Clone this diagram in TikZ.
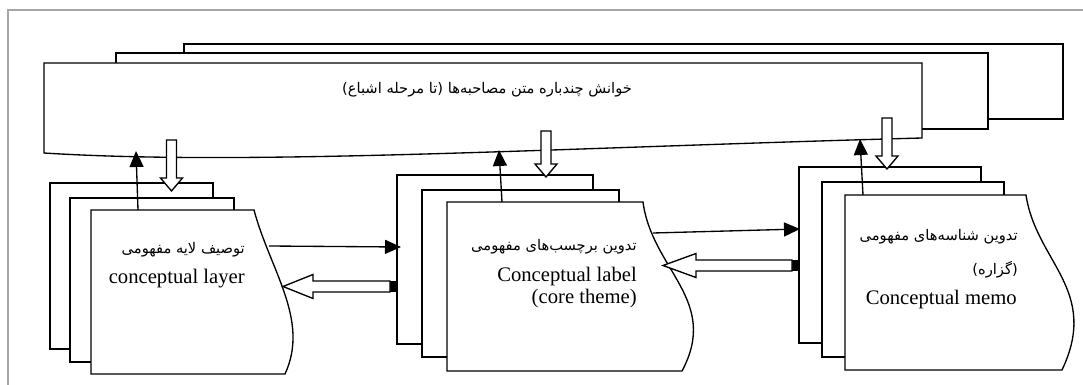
\documentclass[tikz,border=0pt]{standalone}
\usepackage{fontspec}
\setmainfont{Liberation Serif}
\newfontfamily\farsifont[Script=Arabic]{DejaVu Sans}
\TeXXeTstate=1
\usetikzlibrary{arrows.meta,positioning}

\tikzset{
  box/.style={draw, line width=1pt, fill=white},
  hollow/.style={draw, line width=1pt, fill=white},
  thinarrow/.style={line width=1pt, -{Triangle[length=12pt,width=10.5pt]}},
  fatext/.style={font=\farsifont\fontsize{11}{13}\selectfont, inner sep=0pt},
  entext/.style={font=\fontsize{15.5}{17}\selectfont, inner sep=0pt},
}

% hollow arrow pointing down: centre x, top y, tip y
\newcommand{\hollowdown}[3]{%
  \draw[hollow] (#1-5,#2) -- (#1+5,#2) -- (#1+5,#3-13) -- (#1+11,#3-13)
    -- (#1,#3) -- (#1-11,#3-13) -- (#1-5,#3-13) -- cycle;}
% hollow arrow pointing left: tail x, tip x, centre y, head length
\newcommand{\hollowleft}[4]{%
  \fill (#1-7,#3-5.5) rectangle (#1,#3+5.5);
  \draw[hollow] (#1-7,#3-5.5) -- (#2+#4,#3-5.5) -- (#2+#4,#3-12) -- (#2,#3)
    -- (#2+#4,#3+12) -- (#2+#4,#3+5.5) -- (#1-7,#3+5.5) -- cycle;}

\begin{document}
\begin{tikzpicture}[x=0.75pt, y=-0.75pt]
    \useasboundingbox (0,0) rectangle (1083,385);

    % frame
    \draw[gray!70, line width=1.4pt] (8,385) -- (8,10) -- (1083,10);

    % === stacked reading sheets ===
    \draw[box] (184,44) rectangle (1063,119);
    \draw[box] (116,53) rectangle (988,129);
    \draw[box] (44,63) -- (922,63) -- (922,138)
        .. controls (550,148) and (250,166) .. (44,153) -- cycle;
    \node[fatext] (reading) at (487,90)
        {\beginR خوانش چندباره متن مصاحبه‌ها (تا مرحله اشباع)\endR};

    % === first stack: conceptual layer ===
    \draw[box] (50,183) rectangle (213,349);
    \draw[box] (70,198) rectangle (234,362);
    \draw[box] (91,210) -- (254,210) .. controls (270,270) and (310,320) .. (285,374)
        -- (91,374) -- cycle;
    \node[fatext, anchor=east] (layerfa) at (245,250) {\beginR توصیف لایه مفهومی\endR};
    \node[entext, anchor=east] (layeren) at (245,279) {conceptual layer};

    % === second stack: conceptual label ===
    \draw[box] (397,175) rectangle (593,344);
    \draw[box] (422,190) rectangle (619,357);
    \draw[box] (447,202) -- (643,202) .. controls (652,270) and (720,300) .. (682,371)
        -- (447,371) -- cycle;
    \node[fatext, anchor=east] (labelfa) at (637,247) {\beginR تدوین برچسب‌های مفهومی\endR};
    \node[entext, anchor=east] (labelen) at (637,277) {Conceptual label};
    \node[entext, anchor=east] (labelcore) at (637,299) {(core theme)};

    % === third stack: conceptual memo ===
    \draw[box] (799,167) rectangle (981,343);
    \draw[box] (822,182) rectangle (1004,357);
    \draw[box] (845,195) -- (1026,195) .. controls (1036,262) and (1100,290) .. (1062,370)
        -- (845,370) -- cycle;
    \node[fatext, anchor=east] (memofa) at (1018,237) {\beginR تدوین شناسه‌های مفهومی\endR};
    \node[fatext, anchor=east] (memoprop) at (1018,270) {\beginR (گزاره)\endR};
    \node[entext, anchor=east] (memoen) at (1017,300) {Conceptual memo};

    % === arrow ends ===
    \coordinate (up1s) at (138,210);
    \coordinate (up1e) at (136,151);
    \coordinate (up2s) at (502,202);
    \coordinate (up2e) at (499,150);
    \coordinate (up3s) at (863,195);
    \coordinate (up3e) at (860,139);
    \coordinate (r1s) at (269,246);
    \coordinate (r1e) at (401,247);
    \coordinate (r2s) at (653,233);
    \coordinate (r2e) at (800,229);

    % thin arrows
    \draw[thinarrow] (up1s) -- (up1e);
    \draw[thinarrow] (up2s) -- (up2e);
    \draw[thinarrow] (up3s) -- (up3e);
    \draw[thinarrow] (r1s) -- (r1e);
    \draw[thinarrow] (r2s) -- (r2e);

    % hollow arrows
    \hollowdown{171.5}{140}{191}
    \hollowdown{546}{131}{177}
    \hollowdown{887}{118}{169}
    \hollowleft{397}{283}{286.5}{30}
    \hollowleft{799}{663}{265.5}{33}
\end{tikzpicture}
\end{document}
